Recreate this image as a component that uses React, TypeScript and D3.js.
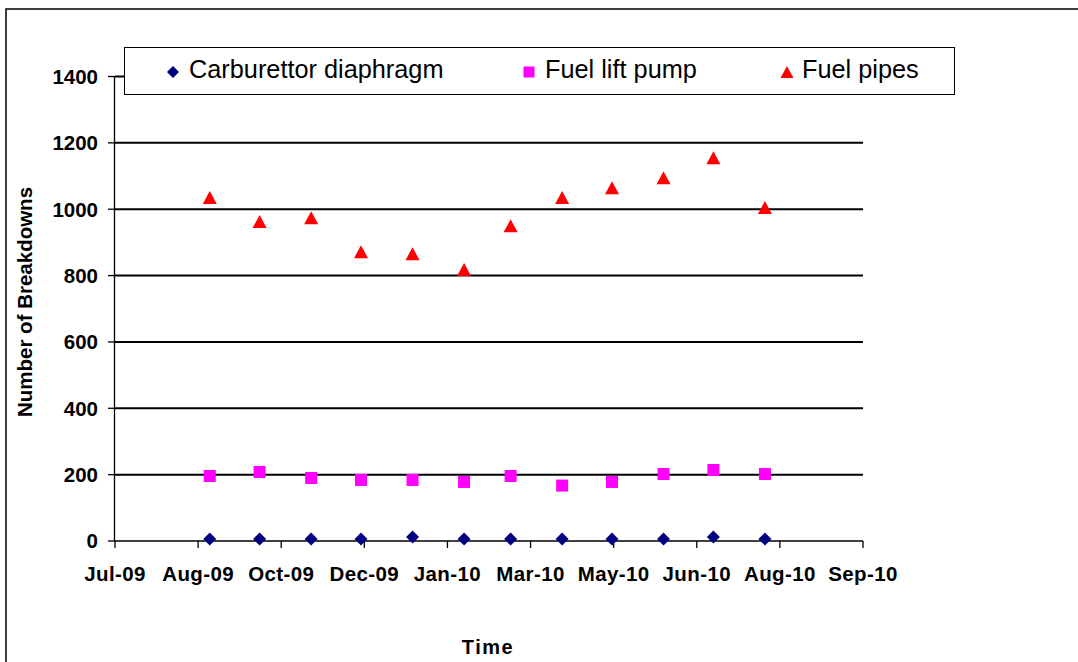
import React from "react";
import * as d3 from "d3";

// monthly readings, Sep-09 .. Aug-10
const months = ["Sep-09", "Oct-09", "Nov-09", "Dec-09", "Jan-10", "Feb-10", "Mar-10", "Apr-10", "May-10", "Jun-10", "Jul-10", "Aug-10"];
const carburettor = [6, 6, 6, 6, 12, 6, 6, 6, 6, 6, 12, 6];
const fuelLiftPump = [196, 208, 190, 184, 184, 178, 196, 167, 178, 202, 214, 202];
const fuelPipes = [1035, 963, 974, 872, 866, 818, 950, 1035, 1065, 1095, 1155, 1005];

const xTickLabels = ["Jul-09", "Aug-09", "Oct-09", "Dec-09", "Jan-10", "Mar-10", "May-10", "Jun-10", "Aug-10", "Sep-10"];
const yTicks = [0, 200, 400, 600, 800, 1000, 1200, 1400];

const W = 1078;
const H = 662;
const font = "'Liberation Sans', Arial, sans-serif";

const parseMonth = d3.timeParse("%b-%y");
const axisStart = new Date(2009, 6, 6);
const axisEnd = d3.timeDay.offset(axisStart, 450);

const x = d3.scaleTime().domain([axisStart, axisEnd]).range([115, 863]);
const y = d3.scaleLinear().domain([0, 1400]).range([541, 76.5]);

const diamond = (s: number) => `M0,${-s}L${s},0L0,${s}L${-s},0Z`;
const square = (s: number) => `M${-s},${-s}H${s}V${s}H${-s}Z`;
const triangle = (s: number) => `M0,${-s}L${s + 0.5},${s}L${-s - 0.5},${s}Z`;

const series = [
  { name: "Carburettor diaphragm", values: carburettor, color: "#000080", shape: diamond, size: 6.5, lx: 173, tx: 189 },
  { name: "Fuel lift pump", values: fuelLiftPump, color: "#FF00FF", shape: square, size: 6, lx: 529, tx: 545 },
  { name: "Fuel pipes", values: fuelPipes, color: "#FF0000", shape: triangle, size: 6.5, lx: 787, tx: 802 },
];

export default function App() {
  const dates = months.map((m) => parseMonth(m) as Date);
  const tickDates = xTickLabels.map((_, i) => d3.timeDay.offset(axisStart, i * 50));
  const [x0, x1] = x.range();

  return (
    <svg width={W} height={H} style={{ position: "absolute", left: 0, top: 0, background: "#fff" }} fontFamily={font}>
      <rect x={6} y={9} width={W + 20} height={H + 20} fill="#fff" stroke="#000" strokeWidth={1.5} />

      {/* gridlines */}
      {yTicks.filter((t) => t > 0).map((t) => (
        <line key={t} x1={x0} x2={x1} y1={y(t)} y2={y(t)} stroke="#000" strokeWidth={2} />
      ))}

      {/* y axis */}
      <line x1={114.5} x2={114.5} y1={y(1400)} y2={y(0)} stroke="#000" strokeWidth={1.3} />
      {yTicks.map((t) => (
        <g key={t} transform={`translate(0,${y(t)})`}>
          <line x1={108} x2={115} stroke="#000" strokeWidth={1.3} />
          <text x={98} dy="0.36em" textAnchor="end" fontSize={20.5} fontWeight="bold">
            {t}
          </text>
        </g>
      ))}

      {/* x axis */}
      <line x1={x0} x2={x1} y1={y(0)} y2={y(0)} stroke="#000" strokeWidth={1.5} />
      {tickDates.map((d, i) => (
        <g key={i} transform={`translate(${x(d)},${y(0)})`}>
          <line y1={0} y2={7} stroke="#000" strokeWidth={1.3} />
          <text y={40} textAnchor="middle" fontSize={20.5} fontWeight="bold" letterSpacing={0.4}>
            {xTickLabels[i]}
          </text>
        </g>
      ))}

      {/* markers */}
      {series.map((s) => (
        <g key={s.name} fill={s.color}>
          {s.values.map((v, i) => (
            <path key={i} d={s.shape(s.size)} transform={`translate(${x(dates[i])},${y(v)})`} />
          ))}
        </g>
      ))}

      {/* axis titles */}
      <text transform="translate(32,302) rotate(-90)" textAnchor="middle" fontSize={20.5} fontWeight="bold">
        Number of Breakdowns
      </text>
      <text x={488} y={654} textAnchor="middle" fontSize={20} fontWeight="bold" letterSpacing={1.5}>
        Time
      </text>

      {/* legend */}
      <rect x={124.5} y={47.5} width={830} height={47} fill="#fff" stroke="#000" strokeWidth={1} />
      {series.map((s) => (
        <g key={s.name}>
          <path d={s.shape(s.size - 0.5)} transform={`translate(${s.lx},72)`} fill={s.color} />
          <text x={s.tx} y={77.5} fontSize={25.3}>
            {s.name}
          </text>
        </g>
      ))}
    </svg>
  );
}
